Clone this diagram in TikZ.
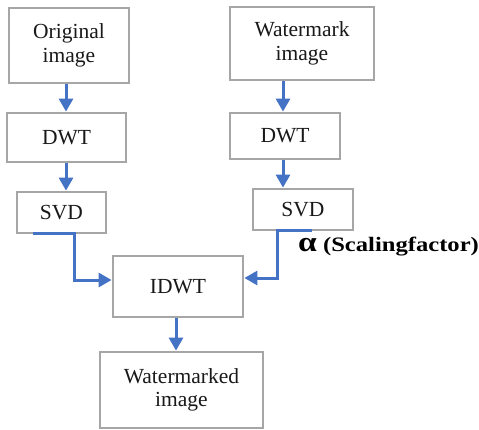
\documentclass[tikz,border=0pt]{standalone}
\usepackage{fontspec}
\setmainfont{Liberation Serif}
\newfontfamily\lblfont{Liberation Serif}[FakeStretch=1.2]
\usetikzlibrary{arrows.meta}
\definecolor{boxgray}{HTML}{A6A6A6}
\definecolor{arrblue}{HTML}{4472C4}
\tikzset{
  blk/.style={draw=boxgray, line width=2.8pt, fill=white, align=center,
    inner sep=0pt, font=\fontsize{21.5pt}{23.5pt}\selectfont, text=black!90},
  arr/.style={draw=arrblue, line width=3pt,
    -{Triangle[width=14pt,length=13pt]}},
  conn/.style={draw=arrblue, line width=3pt}
}
\begin{document}
\begin{tikzpicture}[x=1pt,y=-1pt]
\useasboundingbox (0,0) rectangle (479,429);
% left column
\node[blk, minimum width=120pt, minimum height=75pt] (o) at (69,45.5) {Original\\image};
\node[blk, minimum width=119pt, minimum height=49pt] (d1) at (66.5,137.5) {DWT};
\node[blk, minimum width=89pt, minimum height=41pt] (s1) at (61.5,212.5) {SVD};
% right column
\node[blk, minimum width=144pt, minimum height=73pt] (wm) at (302,43.5) {Watermark\\image};
\node[blk, minimum width=110pt, minimum height=46pt] (d2) at (285,136) {DWT};
\node[blk, minimum width=100pt, minimum height=41pt] (s2) at (303,209.5) {SVD};
% bottom
\node[blk, minimum width=130pt, minimum height=61pt] (idwt) at (178,286.5) {IDWT};
\node[blk, minimum width=163pt, minimum height=76pt] (out) at (181.5,390) {Watermarked\\image};
% label
\node[anchor=base west, inner sep=0pt, text=black] (alpha) at (298,251)
  {\lblfont\bfseries{\fontsize{28pt}{28pt}\selectfont α}\fontsize{20.5pt}{22pt}\selectfont\ (Scalingfactor)};
% vertical arrows
\coordinate (ax1) at (66,0);
\coordinate (ax2) at (283,0);
\coordinate (ax3) at (176,0);
\draw[arr] (o.south -| ax1) -- (d1.north -| ax1);
\draw[arr] (d1.south -| ax1) -- (s1.north -| ax1);
\draw[arr] (wm.south -| ax2) -- (d2.north -| ax2);
\draw[arr] (d2.south -| ax2) -- (s2.north -| ax2);
\draw[arr] (idwt.south -| ax3) -- (out.north -| ax3);
% SVD to IDWT
\coordinate (ls) at (33,233);
\coordinate (lb) at (74,280);
\draw[arr] (ls) -| (lb) -- (lb -| idwt.west);
\coordinate (rs) at (312,230.5);
\coordinate (rb) at (277,278);
\draw[arr] (rs) -| (rb) -- (rb -| idwt.east);
\end{tikzpicture}
\end{document}
